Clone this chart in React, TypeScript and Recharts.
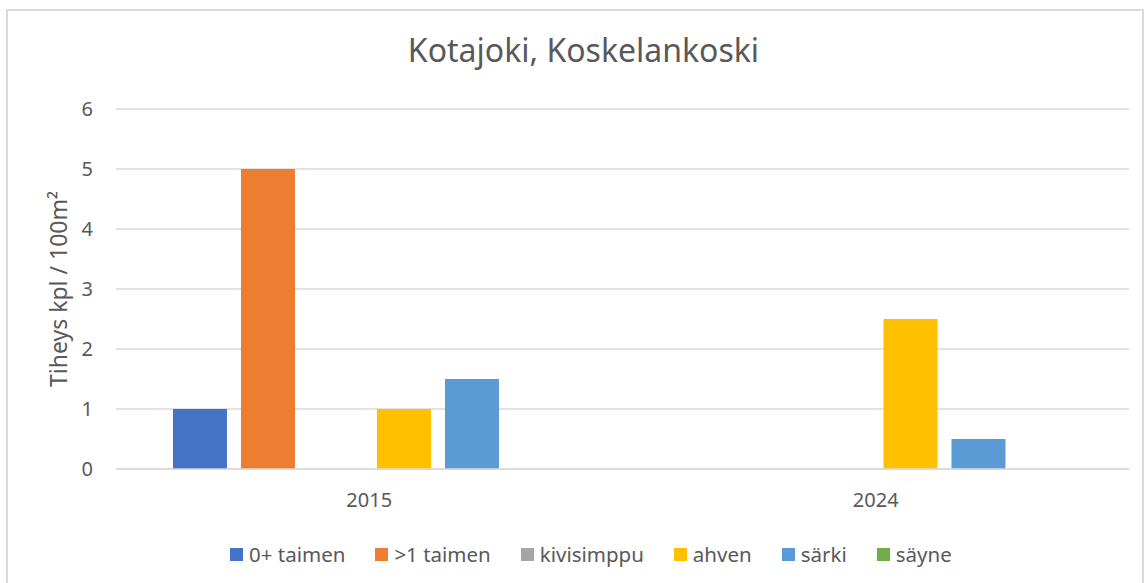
import { Bar, BarChart, CartesianGrid, XAxis, YAxis } from "recharts";

// Kotajoki, Koskelankoski – density of fish per 100 m² by year

const years = ["2015", "2024"];
const taimen0 = [1, 0];
const taimen1 = [5, 0];
const kivisimppu = [0, 0];
const ahven = [1, 2.5];
const sarki = [1.5, 0.5];
const sayne = [0, 0];
const yTicks = [0, 1, 2, 3, 4, 5, 6];

const series = [
  { key: "taimen0", name: "0+ taimen", values: taimen0, color: "#4472C4" },
  { key: "taimen1", name: ">1 taimen", values: taimen1, color: "#ED7D31" },
  { key: "kivisimppu", name: "kivisimppu", values: kivisimppu, color: "#A5A5A5" },
  { key: "ahven", name: "ahven", values: ahven, color: "#FFC000" },
  { key: "sarki", name: "särki", values: sarki, color: "#5B9BD5" },
  { key: "sayne", name: "säyne", values: sayne, color: "#70AD47" },
];

const data = years.map((year, i) => {
  const row: Record<string, string | number> = { year };
  series.forEach((s) => (row[s.key] = s.values[i]));
  return row;
});

const FONT = "'Noto Sans', sans-serif";
const TEXT = "#595959";
const GRID = "#d9d9d9";

function YLabel({ viewBox }: any) {
  const cx = 58;
  const cy = viewBox.y + viewBox.height / 2;
  return (
    <text
      x={cx}
      y={cy}
      transform={`rotate(-90, ${cx}, ${cy})`}
      textAnchor="middle"
      dominantBaseline="central"
      fill={TEXT}
      style={{ fontFamily: FONT, fontSize: 23 }}
    >
      Tiheys kpl / 100m²
    </text>
  );
}

export default function App() {
  return (
    <div
      style={{
        position: "absolute",
        left: 0,
        top: 0,
        width: 1147,
        height: 583,
        overflow: "hidden",
        background: "#fff",
        fontFamily: FONT,
      }}
    >
      <div
        style={{
          position: "absolute",
          left: 6,
          top: 9,
          width: 1138,
          height: 600,
          border: `2px solid ${GRID}`,
          boxSizing: "border-box",
        }}
      />
      <div
        style={{
          position: "absolute",
          left: 0,
          width: 1167,
          top: 34,
          textAlign: "center",
          fontSize: 32,
          lineHeight: "32px",
          color: TEXT,
        }}
      >
        Kotajoki, Koskelankoski
      </div>
      <div style={{ position: "absolute", left: 0, top: 0 }}>
        <BarChart
          width={1147}
          height={583}
          data={data}
          margin={{ top: 109, right: 18, bottom: 84, left: 0 }}
          barCategoryGap="11.25%"
          barGap={14}
        >
          <CartesianGrid vertical={false} stroke={GRID} strokeWidth={1.5} />
          <XAxis
            dataKey="year"
            height={30}
            tickLine={false}
            tickSize={0}
            tickMargin={24}
            axisLine={{ stroke: GRID, strokeWidth: 1.5 }}
            tick={{ fill: TEXT, fontSize: 20, fontFamily: FONT }}
          />
          <YAxis
            width={116}
            domain={[0, 6]}
            ticks={yTicks}
            axisLine={false}
            tickLine={false}
            tickSize={0}
            tickMargin={23}
            tick={{ fill: TEXT, fontSize: 20, fontFamily: FONT }}
            label={<YLabel />}
          />
          {series.map((s) => (
            <Bar key={s.key} dataKey={s.key} name={s.name} fill={s.color} isAnimationActive={false} />
          ))}
        </BarChart>
      </div>
      <div
        style={{
          position: "absolute",
          left: 230,
          top: 541,
          height: 26,
          display: "flex",
          alignItems: "center",
          gap: 30,
          fontSize: 20.5,
          color: TEXT,
          whiteSpace: "nowrap",
        }}
      >
        {series.map((s) => (
          <div key={s.key} style={{ display: "flex", alignItems: "center" }}>
            <span
              style={{ width: 13, height: 13, background: s.color, marginRight: 6, display: "inline-block" }}
            />
            <span>{s.name}</span>
          </div>
        ))}
      </div>
    </div>
  );
}
